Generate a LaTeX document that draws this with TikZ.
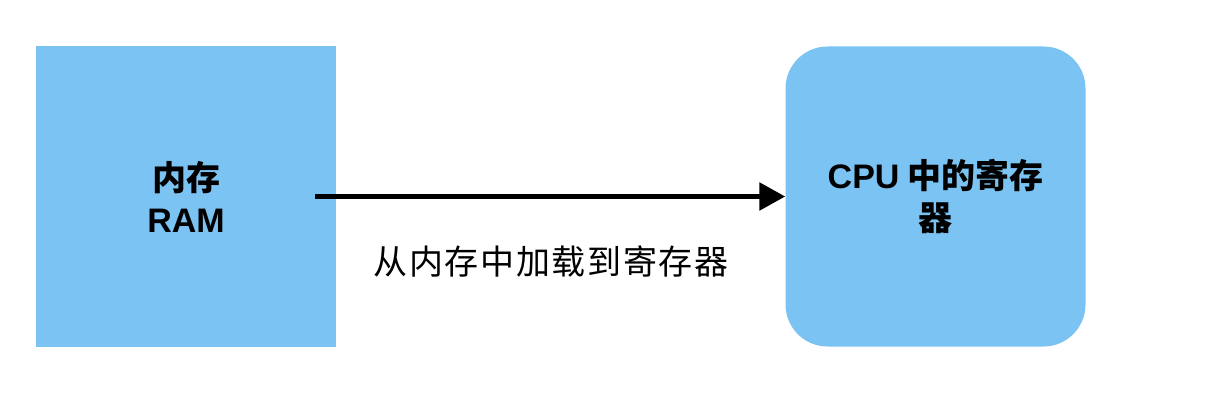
\documentclass[tikz,border=0pt]{standalone}
\usepackage{fontspec}
\setmainfont{Noto Sans CJK SC}
\newfontfamily\latinf{Liberation Sans}
\usetikzlibrary{arrows.meta}
\definecolor{boxblue}{RGB}{122,195,242}
\tikzset{
  box/.style={fill=boxblue, draw=none, minimum width=300pt, minimum height=300pt, inner sep=0pt, align=center, font=\fontsize{34pt}{42pt}\selectfont\bfseries},
  conn/.style={line width=5.5pt, -{Triangle[length=26pt,width=27pt]}},
  lbl/.style={font=\fontsize{34pt}{40pt}\selectfont\addfontfeature{LetterSpace=5}, inner sep=0pt}
}
\begin{document}
\begin{tikzpicture}[x=1pt,y=-1pt]
\useasboundingbox (0,0) rectangle (1220,412);
\node[box] (ram) at (186,196.5) {内存\\{\latinf RAM}};
\node[box, rounded corners=42pt] (cpu) at (935.5,196.5) {{\latinf CPU} 中的寄存\\器};
\draw[conn] ([xshift=-21pt]ram.east) -- (cpu.west);
\node[lbl] (label) at (551,262) {从内存中加载到寄存器};
\end{tikzpicture}
\end{document}
